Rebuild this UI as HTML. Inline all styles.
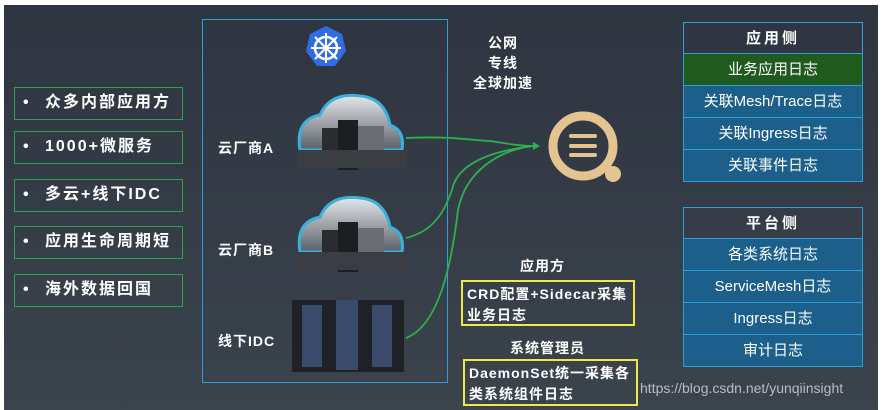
<!DOCTYPE html>
<html><head><meta charset="utf-8"><style>
*{margin:0;padding:0;box-sizing:border-box}
body{width:882px;height:410px;background:#fff;position:relative;overflow:hidden;font-family:"Liberation Sans","Noto Sans CJK SC",sans-serif}
#bg{position:absolute;left:4px;top:5px;width:874px;height:405px;background:linear-gradient(#2e3540,#3b434d)}
.lb{position:absolute;left:14px;width:169px;height:33px;border:1.5px solid #2fa34a;color:#fff;font-size:16px;font-weight:bold;line-height:30px;padding-left:8px;letter-spacing:2px}
.lb span{display:inline-block;width:22px}
.t{position:absolute;color:#fff;font-weight:bold;font-size:14px;letter-spacing:1px}
.tbl{position:absolute;left:683px;width:180px;border:1.5px solid #2d9fd6}
.tbl div{height:32px;line-height:31px;text-align:center;color:#fff;font-size:15px;background:#1b5f8a;border-top:1.5px solid #2d9fd6}
.tbl div.h{background:transparent;border-top:none;font-weight:bold;letter-spacing:3px;height:30px}
.tbl div.g{background:#1f5a1e}
.yb{position:absolute;border:2px solid #f1e84a;color:#fff;font-weight:bold;font-size:14px;line-height:21px;padding:2px 4px;letter-spacing:1px}
</style></head><body>
<div id="bg"></div>
<div class="lb" style="top:87px"><span>•</span>众多内部应用方</div>
<div class="lb" style="top:131px"><span>•</span>1000+微服务</div>
<div class="lb" style="top:179px"><span>•</span>多云+线下IDC</div>
<div class="lb" style="top:226px"><span>•</span>应用生命周期短</div>
<div class="lb" style="top:274px"><span>•</span>海外数据回国</div>
<div style="position:absolute;left:202px;top:19px;width:246px;height:364px;border:1.5px solid #2d9fd6"></div>
<svg style="position:absolute;left:0;top:0" width="882" height="410">
<defs><linearGradient id="cl" x1="0" y1="0" x2="0" y2="1"><stop offset="0" stop-color="#e4e7ea"/><stop offset="1" stop-color="#5a6068"/></linearGradient></defs>
<polygon points="326,26 342,34 346,51 335,66 317,66 306,51 310,34" fill="#326ce5"/>
<circle cx="326" cy="48" r="11" fill="none" stroke="#fff" stroke-width="2.5"/>
<g stroke="#fff" stroke-width="2"><line x1="326" y1="33" x2="326" y2="63"/><line x1="311" y1="48" x2="341" y2="48"/><line x1="315" y1="37" x2="337" y2="59"/><line x1="337" y1="37" x2="315" y2="59"/></g>
<g id="c"><path d="M300,150 Q295,120 320,115 Q330,92 360,96 Q385,98 390,125 Q405,130 402,150 Z" fill="url(#cl)" stroke="#3bb0d9" stroke-width="3"/>
<rect x="322" y="128" width="16" height="40" fill="#2a2c30"/><rect x="338" y="120" width="20" height="50" fill="#1c1e22"/><rect x="358" y="126" width="26" height="42" fill="#6a6e74"/><rect x="298" y="150" width="108" height="18" fill="#3a3d42"/></g>
<use href="#c" transform="translate(0,102)"/>
<rect x="292" y="300" width="112" height="72" fill="#1e2126"/>
<g fill="#3a4a6a"><rect x="302" y="305" width="20" height="62"/><rect x="336" y="300" width="22" height="70"/><rect x="372" y="305" width="20" height="62"/></g>
<g fill="none" stroke="#2fb04f" stroke-width="1.8">
<path d="M406,138 C450,136 470,140 490,141 C510,144 520,146 533,146"/>
<path d="M406,238 C440,230 448,200 452,190 C458,160 500,150 533,146"/>
<path d="M406,338 C440,325 452,260 458,210 C466,170 500,150 533,146"/>
</g>
<polygon points="533,142 540,146 533,150" fill="#2fb04f"/>
<circle cx="583" cy="146" r="30" fill="none" stroke="#e3c38f" stroke-width="9"/>
<circle cx="613" cy="174" r="8" fill="#e3c38f"/>
<g stroke="#e3c38f" stroke-width="4" stroke-linecap="round"><line x1="571" y1="136" x2="595" y2="136"/><line x1="571" y1="146" x2="595" y2="146"/><line x1="571" y1="155" x2="595" y2="155"/></g>
</svg>
<div class="t" style="left:218px;top:138px">云厂商A</div>
<div class="t" style="left:218px;top:240px">云厂商B</div>
<div class="t" style="left:218px;top:331px">线下IDC</div>
<div class="t" style="left:468px;top:33px;width:70px;text-align:center;line-height:20px">公网<br>专线<br>全球加速</div>
<div class="t" style="left:520px;top:256px">应用方</div>
<div class="yb" style="left:461px;top:280px;width:174px;height:46px">CRD配置+Sidecar采集<br>业务日志</div>
<div class="t" style="left:510px;top:338px">系统管理员</div>
<div class="yb" style="left:463px;top:359px;width:175px;height:47px">DaemonSet统一采集各<br>类系统组件日志</div>
<div style="position:absolute;left:640px;top:380px;color:#b8bcc2;font-size:14px">https://blog.csdn.net/yunqiinsight</div>
<div class="tbl" style="top:22px"><div class="h">应用侧</div><div class="g">业务应用日志</div><div>关联Mesh/Trace日志</div><div>关联Ingress日志</div><div>关联事件日志</div></div>
<div class="tbl" style="top:207px"><div class="h">平台侧</div><div>各类系统日志</div><div>ServiceMesh日志</div><div>Ingress日志</div><div>审计日志</div></div>
</body></html>
